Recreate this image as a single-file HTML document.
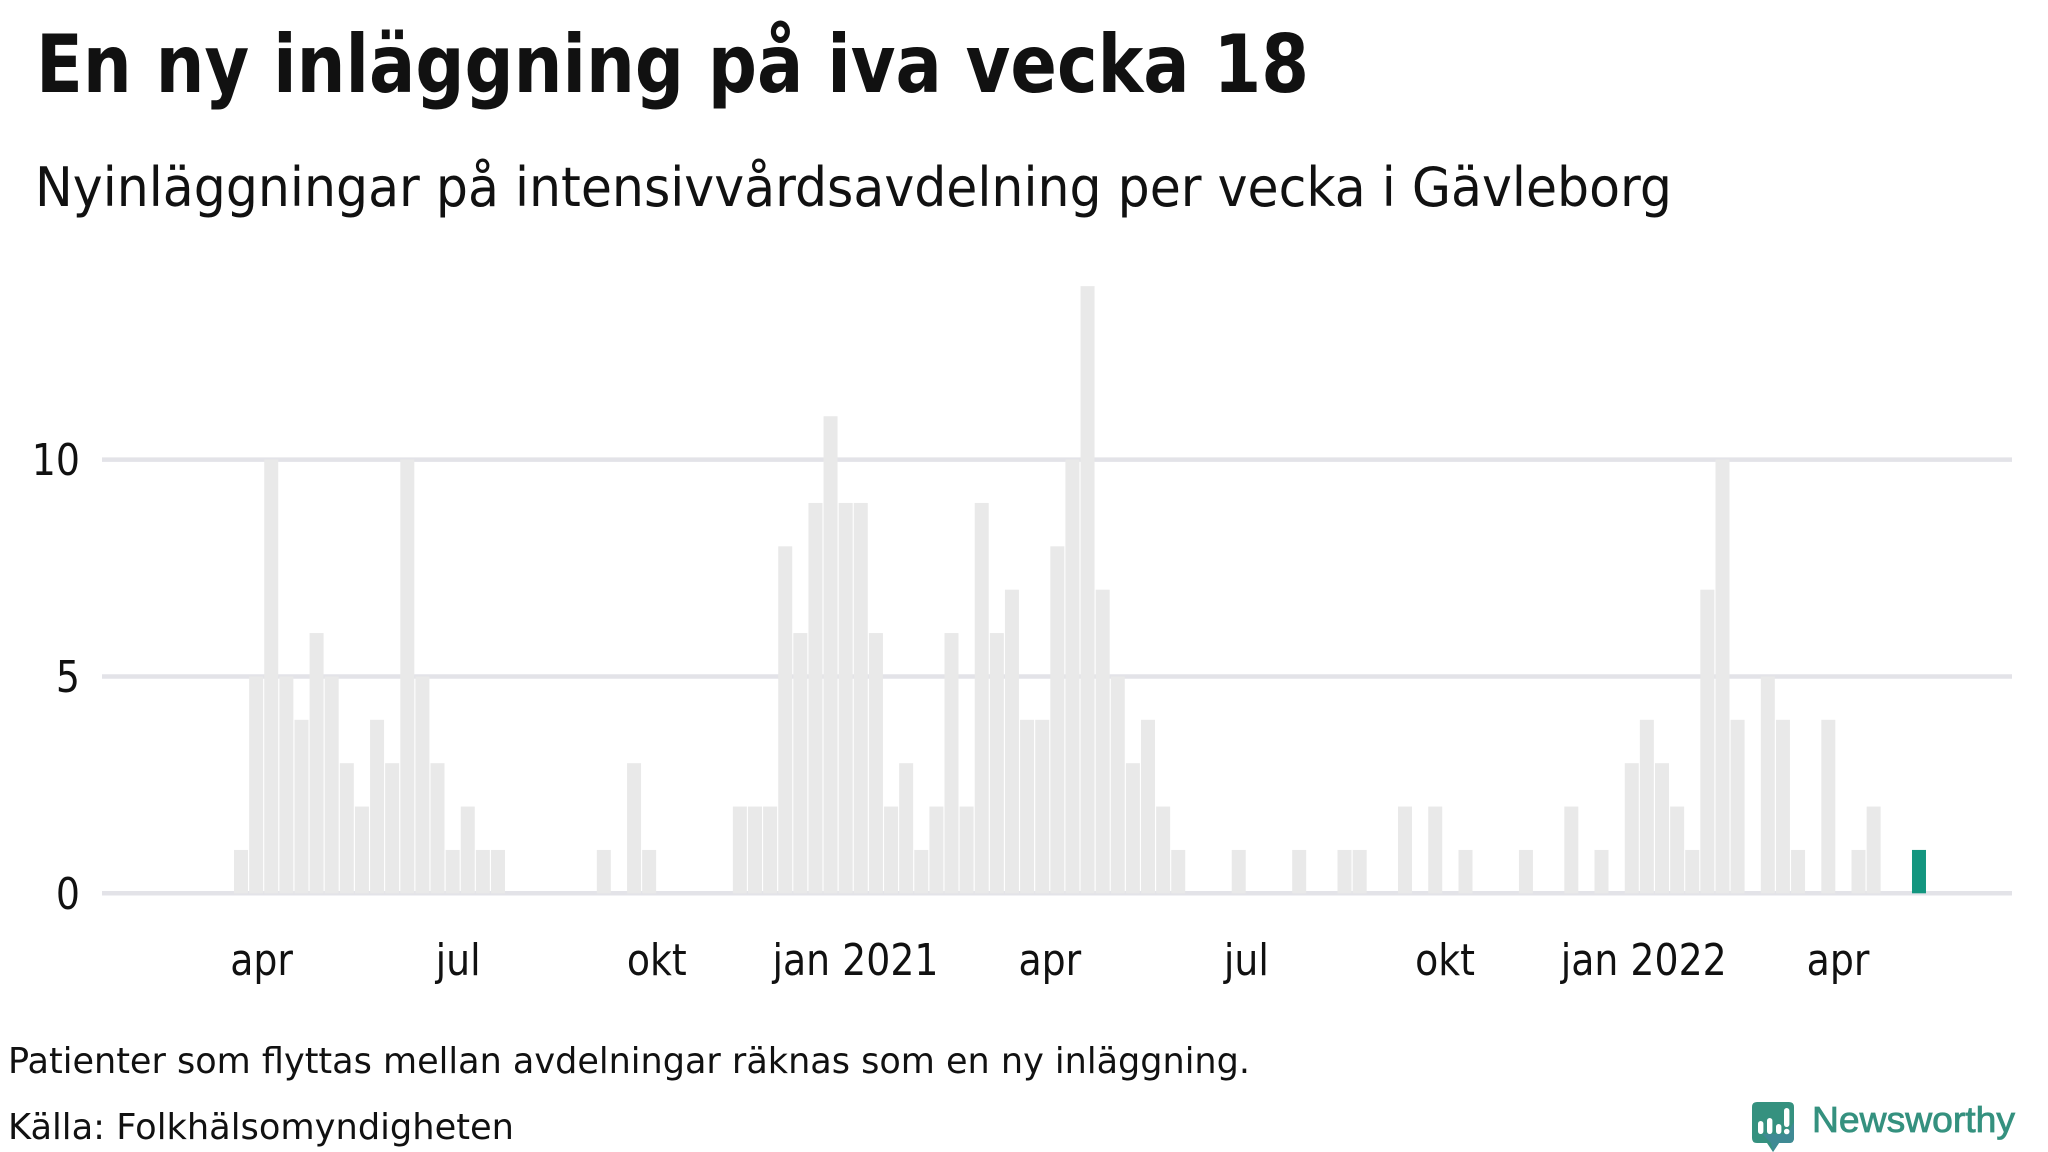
<!DOCTYPE html>
<html lang="sv">
<head>
<meta charset="utf-8">
<title>En ny inläggning på iva vecka 18</title>
<style>
html,body{margin:0;padding:0;background:#fff;}
svg{display:block;}
text{font-family:"DejaVu Sans","Liberation Sans",sans-serif;fill:#111;}
</style>
</head>
<body>
<svg id="chart" xmlns="http://www.w3.org/2000/svg" width="2048" height="1152" viewBox="0 0 2048 1152">
  <rect x="0" y="0" width="2048" height="1152" fill="#ffffff"/>
  <text x="36" y="92" font-size="80" font-weight="700" textLength="1273" lengthAdjust="spacingAndGlyphs">En ny inläggning på iva vecka 18</text>
  <text x="35" y="206" font-size="54" textLength="1637" lengthAdjust="spacingAndGlyphs">Nyinläggningar på intensivvårdsavdelning per vecka i Gävleborg</text>
  <g id="grid"></g>
  <g id="bars"></g>
  <g id="y-axis"></g>
  <g id="x-axis"></g>
  <text x="8" y="1073" font-size="36" textLength="1242" lengthAdjust="spacingAndGlyphs">Patienter som flyttas mellan avdelningar räknas som en ny inläggning.</text>
  <text x="8" y="1139" font-size="36" textLength="506" lengthAdjust="spacingAndGlyphs">Källa: Folkhälsomyndigheten</text>
  <g>
    <path d="M1757 1102H1789Q1794 1102 1794 1107V1138Q1794 1143 1789 1143H1779L1773 1152L1767 1143H1757Q1752 1143 1752 1138V1107Q1752 1102 1757 1102Z" fill="#35917f"/>
    <path d="M1762 1134H1787L1794 1122V1138Q1794 1143 1789 1143H1779L1773 1152L1771 1143Z" fill="#3f8a94"/>
    <rect x="1758" y="1121" width="5.4" height="13" rx="2.7" fill="#ffffff"/>
    <rect x="1767" y="1118" width="5.4" height="16" rx="2.7" fill="#ffffff"/>
    <rect x="1776" y="1124" width="5.4" height="10" rx="2.7" fill="#ffffff"/>
    <rect x="1784" y="1108" width="5.4" height="19" rx="2.7" fill="#ffffff"/>
    <circle cx="1786.7" cy="1131.5" r="2.8" fill="#ffffff"/>
    <text x="1812" y="1132" font-size="36" font-weight="400" stroke="#35917f" stroke-width="0.8" textLength="203" lengthAdjust="spacingAndGlyphs" style="font-family:'Liberation Sans',sans-serif;fill:#35917f">Newsworthy</text>
  </g>
</svg>
<script>
// Chart data: weekly new ICU admissions
var startDate = '2020-03-22';
var values = [1,5,10,5,4,6,5,3,2,4,3,10,5,3,1,2,1,1,0,0,0,0,0,0,1,0,3,1,0,0,0,0,0,2,2,2,8,6,9,11,9,9,6,2,3,1,2,6,2,9,6,7,4,4,8,10,14,7,5,3,4,2,1,0,0,0,1,0,0,0,1,0,0,1,1,0,0,2,0,2,0,1,0,0,0,1,0,0,2,0,1,0,3,4,3,2,1,7,10,4,0,5,4,1,0,4,0,1,2,0,0,1];
var yTickValues = [0,5,10];
var xTickDates = ['2020-04-01','2020-07-01','2020-10-01','2021-01-01','2021-04-01','2021-07-01','2021-10-01','2022-01-01','2022-04-01'];
var xTickLabels = ['apr','jul','okt','jan 2021','apr','jul','okt','jan 2022','apr'];

var NS = 'http://www.w3.org/2000/svg';
var firstBarCenter = 241, weekStep = 15.117, barWidth = 14;
var yZero = 893.3, unitHeight = 43.37;
var gridLeft = 102, gridRight = 2012;
var tickFontSize = 43.5, glyphSqueeze = 0.87;

function xScale(index) { return firstBarCenter + index * weekStep; }
function yScale(value) { return yZero - value * unitHeight; }
function xFromDate(dateString) {
  var days = (Date.parse(dateString) - Date.parse(startDate)) / 86400000;
  return xScale(days / 7) - 1;
}
function squeeze(el) {
  el.setAttribute('textLength', (el.getComputedTextLength() * glyphSqueeze).toFixed(1));
  el.setAttribute('lengthAdjust', 'spacingAndGlyphs');
}

var gridGroup = document.getElementById('grid');
var barGroup = document.getElementById('bars');
var yGroup = document.getElementById('y-axis');
var xGroup = document.getElementById('x-axis');

yTickValues.forEach(function (v) {
  var line = document.createElementNS(NS, 'line');
  
  
  line.setAttribute('x1', gridLeft);
  line.setAttribute('x2', gridRight);
  line.setAttribute('y1', yScale(v));
  line.setAttribute('y2', yScale(v));
  line.setAttribute('stroke', '#e3e3e8');
  line.setAttribute('stroke-width', '4.5');
  gridGroup.appendChild(line);

  var label = document.createElementNS(NS, 'text');
  
  
  label.setAttribute('x', 80);
  label.setAttribute('y', yScale(v) + 15.5);
  label.setAttribute('text-anchor', 'end');
  label.setAttribute('font-size', tickFontSize);
  label.textContent = String(v);
  yGroup.appendChild(label);
  squeeze(label);
});

values.forEach(function (v, i) {
  if (v === 0) { return; }
  var isLatest = i === values.length - 1;
  var bar = document.createElementNS(NS, 'rect');
  
  
  bar.setAttribute('x', xScale(i) - barWidth / 2);
  bar.setAttribute('y', yScale(v));
  bar.setAttribute('width', barWidth);
  bar.setAttribute('height', yZero - yScale(v));
  bar.setAttribute('fill', isLatest ? '#13967f' : '#e9e9e9');
  barGroup.appendChild(bar);
});

xTickDates.forEach(function (d, i) {
  var label = document.createElementNS(NS, 'text');
  
  
  label.setAttribute('x', xFromDate(d));
  label.setAttribute('y', 975);
  label.setAttribute('text-anchor', 'middle');
  label.setAttribute('font-size', tickFontSize);
  label.textContent = xTickLabels[i];
  xGroup.appendChild(label);
  squeeze(label);
});
</script>
</body>
</html>
